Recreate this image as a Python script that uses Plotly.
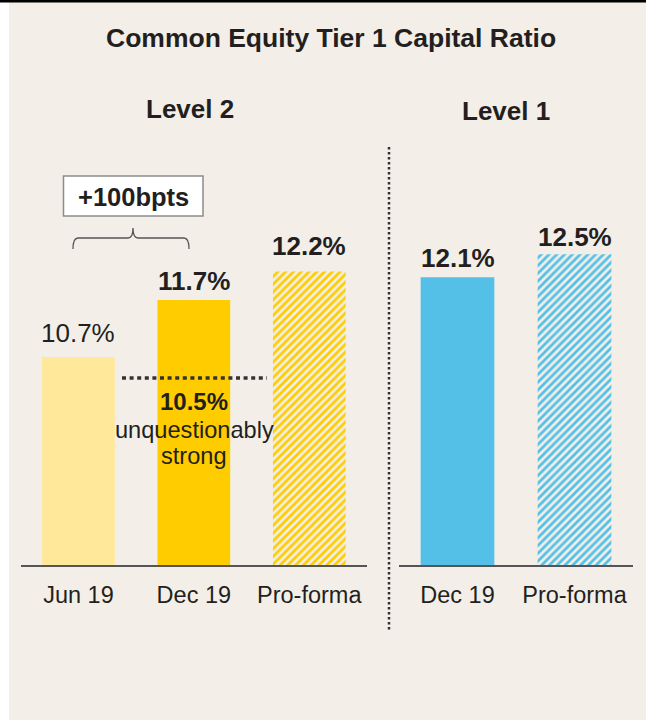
import plotly.graph_objects as go

# ---------------- data ----------------
level2_categories = ["Jun 19", "Dec 19", "Pro-forma"]
level2_values = [10.7, 11.7, 12.2]
level2_labels = ["10.7%", "11.7%", "12.2%"]

level1_categories = ["Dec 19", "Pro-forma"]
level1_values = [12.1, 12.5]
level1_labels = ["12.1%", "12.5%"]

threshold_label = "10.5%"
threshold_text = ["unquestionably", "strong"]
change_label = "+100bpts"
title_text = "Common Equity Tier 1 Capital Ratio"
panel_titles = ["Level 2", "Level 1"]

# ---------------- style ----------------
W, H = 646, 720
BG = "#F3EFE8"
INK = "#231F20"
FONT = "Liberation Sans, Arial, sans-serif"
Y_RANGE = [7.05, 7.05 + 425 / 57]

def px(x):
    return x / W

def py(y):
    return 1 - y / H

fig = go.Figure()

# Level 2 bars
l2_colors = ["#FFE89A", "#FFCC00", "#FFCC00"]
l2_patterns = ["", "", "/"]
fig.add_trace(go.Bar(
    x=level2_categories, y=level2_values,
    width=0.63,
    marker=dict(
        color=l2_colors,
        line=dict(width=0),
        pattern=dict(shape=l2_patterns, fgcolor="#FFCC00", bgcolor="#FFFFFF",
                     size=5.5, solidity=0.5, fillmode="replace"),
    ),
    xaxis="x", yaxis="y", showlegend=False, hoverinfo="skip",
))

# Level 1 bars
fig.add_trace(go.Bar(
    x=level1_categories, y=level1_values,
    width=0.63,
    marker=dict(
        color=["#55C0E7", "#55C0E7"],
        line=dict(width=0),
        pattern=dict(shape=["", "/"], fgcolor="#55C0E7", bgcolor="#FFFFFF",
                     size=5.5, solidity=0.5, fillmode="replace"),
    ),
    xaxis="x2", yaxis="y2", showlegend=False, hoverinfo="skip",
))

axis_common = dict(
    showline=True, linecolor="#555555", linewidth=1.5,
    ticks="outside", ticklen=8, tickcolor="rgba(0,0,0,0)",
    tickfont=dict(family=FONT, size=23.5, color=INK),
    showgrid=False, zeroline=False, fixedrange=True,
)
fig.update_layout(
    width=W, height=H,
    margin=dict(l=0, r=0, t=0, b=0),
    paper_bgcolor="#FFFFFF",
    plot_bgcolor="rgba(0,0,0,0)",
    xaxis=dict(domain=[px(20.7), px(367)], anchor="y", **axis_common),
    yaxis=dict(domain=[py(565), py(140)], range=Y_RANGE, visible=False, fixedrange=True),
    xaxis2=dict(domain=[px(399), px(633)], anchor="y2", **axis_common),
    yaxis2=dict(domain=[py(565), py(140)], range=Y_RANGE, visible=False, fixedrange=True),
    bargap=0.37,
)

shapes = []
# beige panel and black top rule
shapes.append(dict(type="rect", xref="paper", yref="paper", x0=px(9), x1=1, y0=0, y1=1,
                   fillcolor=BG, line=dict(width=0), layer="below"))
shapes.append(dict(type="rect", xref="paper", yref="paper", x0=0, x1=1, y0=py(2.5), y1=1,
                   fillcolor="#000000", line=dict(width=0), layer="above"))
# box around +100bpts
shapes.append(dict(type="rect", xref="paper", yref="paper", x0=px(63.5), x1=px(203), y0=py(216), y1=py(176),
                   fillcolor="#FFFFFF", line=dict(color="#8C8C8C", width=1.5), layer="above"))
# bracket
pts = [(73, 249), (73, 238), (78, 238), (128, 238), (133, 238), (133, 228),
       (133, 238), (138, 238), (184, 238), (189, 238), (189, 249)]
def P(p):
    return f"{px(p[0]):.5f},{py(p[1]):.5f}"
path = (f"M{P(pts[0])} Q{P(pts[1])} {P(pts[2])} L{P(pts[3])} Q{P(pts[4])} {P(pts[5])} "
        f"Q{P(pts[6])} {P(pts[7])} L{P(pts[8])} Q{P(pts[9])} {P(pts[10])}")
shapes.append(dict(type="path", xref="paper", yref="paper", path=path,
                   line=dict(color="#555555", width=1.3), layer="above"))
# dotted threshold line
shapes.append(dict(type="line", xref="paper", yref="paper", x0=px(122), x1=px(267), y0=py(378), y1=py(378),
                   line=dict(color="#333333", width=3.5, dash="4px,3.6px"), layer="above"))
# vertical dotted separator
shapes.append(dict(type="line", xref="paper", yref="paper", x0=px(389), x1=px(389), y0=py(147), y1=py(631),
                   line=dict(color="#333333", width=2.5, dash="2.5px,2.5px"), layer="above"))
fig.update_layout(shapes=shapes)

ann = []
def text(x, y, s, size, bold=False, color=INK):
    ann.append(dict(xref="paper", yref="paper", x=px(x), y=py(y), text=s, showarrow=False,
                    xanchor="center", yanchor="middle",
                    font=dict(family=FONT, size=size, color=color, weight="bold" if bold else "normal")))

text(331, 38, title_text, 26.5, bold=True)
text(190, 109, panel_titles[0], 26, bold=True)
text(506, 111, panel_titles[1], 26, bold=True)
text(133, 197, change_label, 25.5, bold=True)
text(194, 401, threshold_label, 24, bold=True)
text(194, 430, threshold_text[0], 23.6)
text(194, 456, threshold_text[1], 23.6)

# value labels anchored on bar tops (data coordinates)
l2_shift = [24, 19, 25]
l2_bold = [False, True, True]
for c, v, lab, s, b in zip(level2_categories, level2_values, level2_labels, l2_shift, l2_bold):
    ann.append(dict(xref="x", yref="y", x=c, y=v, yshift=s, text=lab, showarrow=False,
                    xanchor="center", yanchor="middle",
                    font=dict(family=FONT, size=26, color=INK, weight="bold" if b else "normal")))
l1_shift = [19, 17]
for c, v, lab, s in zip(level1_categories, level1_values, level1_labels, l1_shift):
    ann.append(dict(xref="x2", yref="y2", x=c, y=v, yshift=s, text=lab, showarrow=False,
                    xanchor="center", yanchor="middle",
                    font=dict(family=FONT, size=26, color=INK, weight="bold")))

fig.update_layout(annotations=ann)
fig.write_html("out.html", config={"displayModeBar": False, "staticPlot": True},
               post_script="document.body.style.margin='0';document.body.style.overflow='hidden';")
